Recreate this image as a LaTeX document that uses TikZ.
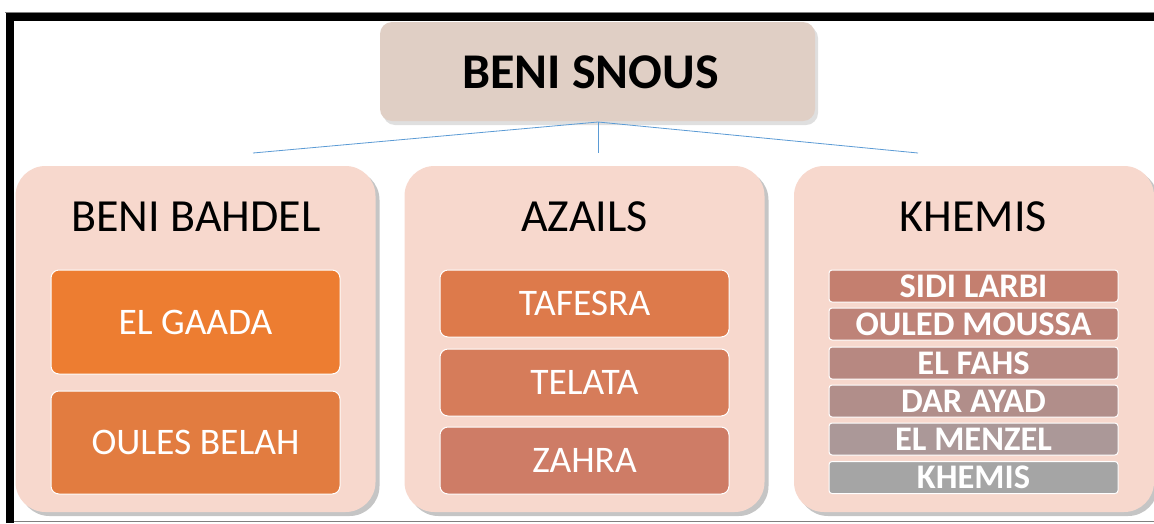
\documentclass[tikz,border=0pt]{standalone}
\usepackage{fontspec}
\setmainfont{Carlito}
\usetikzlibrary{positioning,shapes,shadows,arrows,fit}

\definecolor{rootfill}{HTML}{E0CFC5}
\definecolor{groupfill}{HTML}{F7D8CD}
\definecolor{linkblue}{HTML}{5B9BD5}
\definecolor{gaada}{HTML}{ED7D31}
\definecolor{belah}{HTML}{E27C40}
\definecolor{tafesra}{HTML}{DD7A4B}
\definecolor{telata}{HTML}{D67C5A}
\definecolor{zahra}{HTML}{CE7C66}
\definecolor{larbi}{HTML}{C47F6F}
\definecolor{moussa}{HTML}{BE8378}
\definecolor{fahs}{HTML}{B78881}
\definecolor{ayad}{HTML}{B18E8A}
\definecolor{menzel}{HTML}{AB9898}
\definecolor{khemisbar}{HTML}{A5A5A5}

\tikzset{
  rootbox/.style={rounded corners=12pt, fill=rootfill, minimum width=435pt, minimum height=99pt,
    drop shadow={opacity=0.25, shadow xshift=3pt, shadow yshift=-4pt}},
  roottitle/.style={font=\fontsize{50}{54}\selectfont\bfseries},
  groupbox/.style={rounded corners=30pt, fill=groupfill, minimum width=360pt, minimum height=346pt,
    drop shadow={opacity=0.45, shadow xshift=4pt, shadow yshift=-4pt}},
  grouptitle/.style={font=\fontsize{46}{50}\selectfont},
  placebox/.style={rounded corners=8pt, draw=white, line width=1pt, minimum width=289pt,
    text=white, font=\fontsize{37.5}{40}\selectfont},
  villagebar/.style={rounded corners=3pt, draw=white, line width=1pt, minimum width=289pt,
    minimum height=32pt, inner sep=0pt, text=white, font=\fontsize{34.5}{36}\selectfont\bfseries},
  link/.style={draw=linkblue, line width=0.8pt}
}

\begin{document}
\begin{tikzpicture}[x=1pt,y=-1pt]
\useasboundingbox (0,0) rectangle (1154,523);
\fill[white] (0,0) rectangle (1154,523);

% frame
\draw[line width=0.6, color=gray](5,12) -- (1154,12);
\draw[line width=0.6, color=gray](14,521) -- (1154,521);
\draw[line width=8](10,523) -- (10,17);
\draw[line width=8](6,17) -- (1154,17);

% top
\node[rootbox] (root) at (597.5,71.5) {};
\node[roottitle] (troot) at (590.5,72) {BENI SNOUS};
\coordinate (fork) at (598,122);
\coordinate (endbahdel) at (253,153);
\coordinate (endazails) at (598,153);
\coordinate (endkhemis) at (918,153);
\draw[link](fork) -- (endbahdel);
\draw[link](fork) -- (endazails);
\draw[link](fork) -- (endkhemis);

% groups
\node[groupbox] (bahdel) at (195.5,339) {};
\node[groupbox] (azails) at (584.5,339) {};
\node[groupbox] (khemis) at (974,339) {};
\node[grouptitle] (tbahdel) at (196,217) {BENI BAHDEL};
\node[grouptitle] (tazails) at (584.5,217) {AZAILS};
\node[grouptitle] (tkhemis) at (973.5,217) {KHEMIS};

% beni bahdel
\node[placebox, fill=gaada, minimum height=104pt] (gaada) at (195.5,322) {EL GAADA};
\node[placebox, fill=belah, minimum height=103pt] (belah) at (195.5,442.5) {OULES BELAH};

% azails
\node[placebox, fill=tafesra, minimum height=67pt] (tafesra) at (584.5,303.5) {TAFESRA};
\node[placebox, fill=telata, minimum height=67pt] (telata) at (584.5,382.5) {TELATA};
\node[placebox, fill=zahra, minimum height=67pt] (zahra) at (584.5,460.5) {ZAHRA};

% khemis
\node[villagebar, fill=larbi] (larbi) at (973.5,286) {SIDI LARBI};
\node[villagebar, fill=moussa] (moussa) at (973.5,324) {OULED MOUSSA};
\node[villagebar, fill=fahs] (fahs) at (973.5,363) {EL FAHS};
\node[villagebar, fill=ayad] (ayad) at (973.5,401) {DAR AYAD};
\node[villagebar, fill=menzel] (menzel) at (973.5,439) {EL MENZEL};
\node[villagebar, fill=khemisbar] (khemisv) at (973.5,477.5) {KHEMIS};
\end{tikzpicture}
\end{document}
